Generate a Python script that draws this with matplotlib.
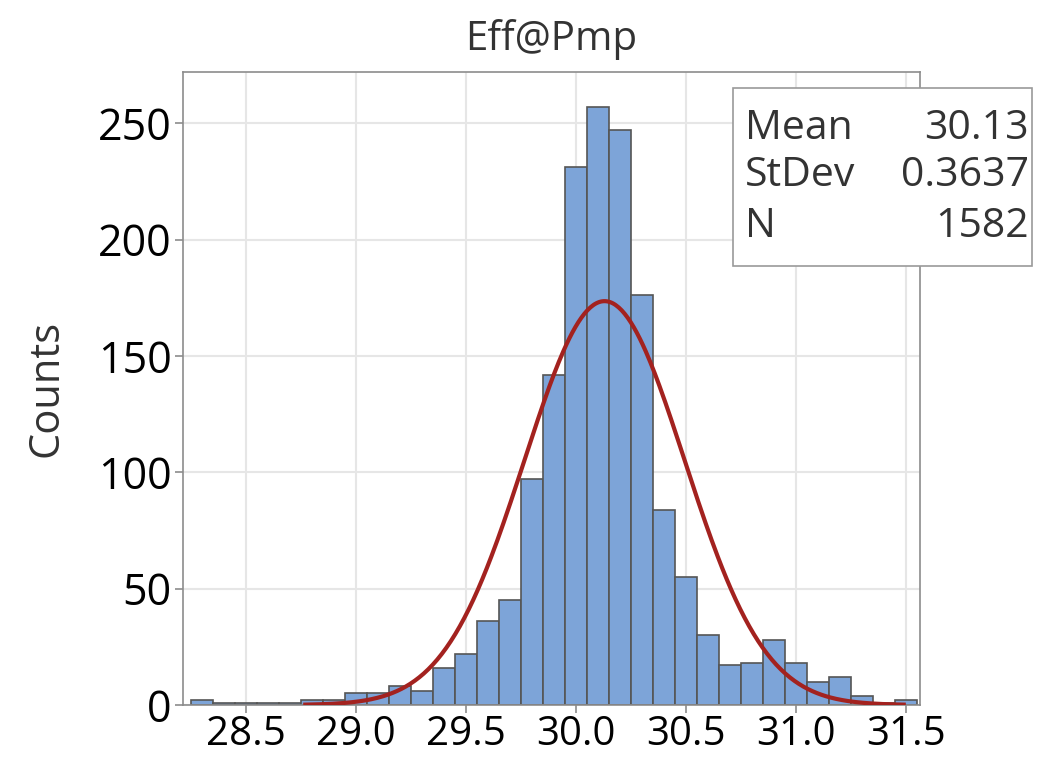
import numpy as np
import matplotlib.pyplot as plt
from matplotlib.patches import Rectangle

plt.rcParams['font.family'] = ['Open Sans', 'DejaVu Sans']

# histogram bins (centre of each 0.1 wide bin) and counts
bin_centres = [28.3, 28.4, 28.5, 28.6, 28.7, 28.8, 28.9, 29.0, 29.1, 29.2, 29.3,
               29.4, 29.5, 29.6, 29.7, 29.8, 29.9, 30.0, 30.1, 30.2, 30.3, 30.4,
               30.5, 30.6, 30.7, 30.8, 30.9, 31.0, 31.1, 31.2, 31.3, 31.4, 31.5]
counts = [2, 1, 1, 1, 1, 2, 2, 5, 5, 8, 6,
          16, 22, 36, 45, 97, 142, 231, 257, 247, 176, 84,
          55, 30, 17, 18, 28, 18, 10, 12, 4, 1, 2]
bin_width = 0.1

mean = 30.13
stdev = 0.3637
n_total = 1582

xticks = [28.5, 29.0, 29.5, 30.0, 30.5, 31.0, 31.5]
yticks = [0, 50, 100, 150, 200, 250]

fig = plt.figure(figsize=(10.45, 7.57), dpi=100)
ax = fig.add_axes([0.1751, 0.0687, 0.7053, 0.8362])

ax.bar(bin_centres, counts, width=bin_width, color='#7da4d8',
       edgecolor='#555555', linewidth=1.2, zorder=2)

# fitted normal curve
xs = np.linspace(28.77, 31.49, 400)
pdf = np.exp(-0.5 * ((xs - mean) / stdev) ** 2) / (stdev * np.sqrt(2 * np.pi))
ax.plot(xs, pdf * n_total * bin_width, color='#a3221f', lw=3, zorder=3)

ax.set_xlim(28.214, 31.564)
ax.set_ylim(0, 272)
ax.set_xticks(xticks)
ax.set_xticklabels(['%.1f' % v for v in xticks])
ax.set_yticks(yticks)
ax.grid(True, color='#e6e6e6', lw=1.5, zorder=0)
ax.set_axisbelow(True)

for s in ax.spines.values():
    s.set_color('#8c8c8c')
    s.set_linewidth(1.2)
ax.tick_params(colors='#8c8c8c', length=6, width=1.2, labelcolor='black')
ax.tick_params(axis='x', labelsize=29, pad=1)
ax.tick_params(axis='y', labelsize=31, pad=2)

ax.set_title('Eff@Pmp', fontsize=29, color='#333333', pad=16)
ax.set_ylabel('Counts', fontsize=30, color='#333333', labelpad=22)

# stats box
W, H = 1045, 757
fig.patches.append(Rectangle((733 / W, 1 - 266 / H), 299 / W, 178 / H,
                             transform=fig.transFigure, facecolor='white',
                             edgecolor='#9a9a9a', lw=1.2, zorder=5))
rows = [('Mean', '%.2f' % mean), ('StDev', '%.4f' % stdev), ('N', '%d' % n_total)]
row_y = [129, 176, 227]
for (lab, val), y in zip(rows, row_y):
    fig.text(745 / W, 1 - y / H, lab, fontsize=29.5, color='#333333',
             ha='left', va='center', zorder=6)
    fig.text(1029 / W, 1 - y / H, val, fontsize=29.5, color='#333333',
             ha='right', va='center', zorder=6)

fig.savefig('out.png', dpi=100)
